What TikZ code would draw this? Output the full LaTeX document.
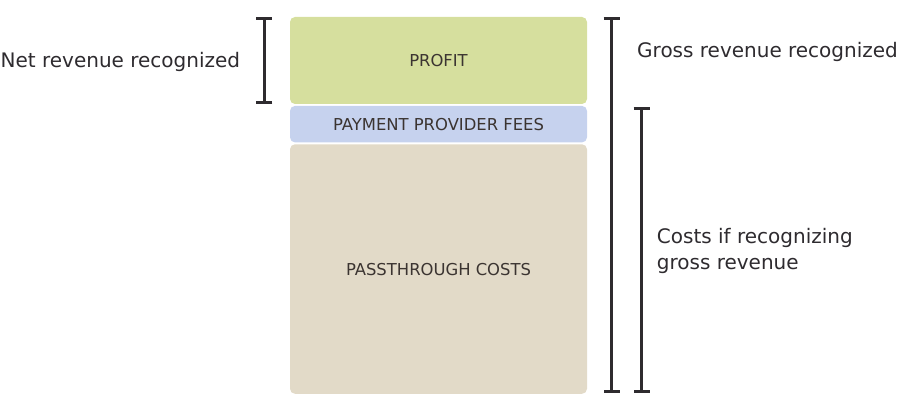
\documentclass[tikz,border=0pt]{standalone}
\usepackage{fontspec}
\setmainfont{DejaVu Sans}
\usetikzlibrary{positioning,arrows.meta,calc}
\definecolor{ink}{HTML}{2E2B2F}
\definecolor{boxink}{HTML}{3B3431}
\definecolor{profitfill}{HTML}{D6DF9E}
\definecolor{feefill}{HTML}{C6D2EE}
\definecolor{passfill}{HTML}{E2DAC8}

\tikzset{
  layer/.style={rectangle,rounded corners=5pt,minimum width=297pt,inner sep=0pt,
    text=boxink,font=\fontsize{16.4}{19}\selectfont},
  bracket/.style={draw=ink,line width=3pt,{Bar[width=16pt]}-{Bar[width=16pt]}},
  sidelabel/.style={inner sep=0pt,text=ink,font=\fontsize{20}{26}\selectfont,align=left}
}

\begin{document}
\begin{tikzpicture}[x=1pt,y=1pt]
\useasboundingbox (0,0) rectangle (900,411);
% stacked layers
\node[layer,fill=profitfill,minimum height=87pt] (profit) at (438.5,350.5) {PROFIT};
\node[layer,fill=feefill,minimum height=36.5pt,below=1.5pt of profit] (fees) {PAYMENT PROVIDER FEES};
\node[layer,fill=passfill,minimum height=249.5pt,below=1.5pt of fees] (pass) {PASSTHROUGH COSTS};
% bracket ends
\coordinate (net top) at ([xshift=-25.5pt,yshift=-0.5pt]profit.north west);
\coordinate (net bot) at ([xshift=-25.5pt]profit.south west);
\coordinate (gross top) at ([xshift=24.5pt,yshift=-0.5pt]profit.north east);
\coordinate (gross bot) at ([xshift=24.5pt,yshift=0.5pt]pass.south east);
\coordinate (cost top) at ([xshift=54.5pt,yshift=-1.5pt]fees.north east);
\coordinate (cost bot) at ([xshift=54.5pt,yshift=0.5pt]pass.south east);
\draw[bracket] (net top) -- (net bot);
\draw[bracket] (gross top) -- (gross bot);
\draw[bracket] (cost top) -- (cost bot);
% labels
\node[sidelabel,anchor=east] (netlbl) at ([xshift=-24pt,yshift=-1pt]$(net top)!0.5!(net bot)$) {Net revenue recognized};
\node[sidelabel,anchor=west] (grosslbl) at (637,359.5) {Gross revenue recognized};
\node[sidelabel,anchor=west] (costlbl) at ([xshift=15pt,yshift=-1pt]$(cost top)!0.5!(cost bot)$) {Costs if recognizing\\gross revenue};
\end{tikzpicture}
\end{document}
